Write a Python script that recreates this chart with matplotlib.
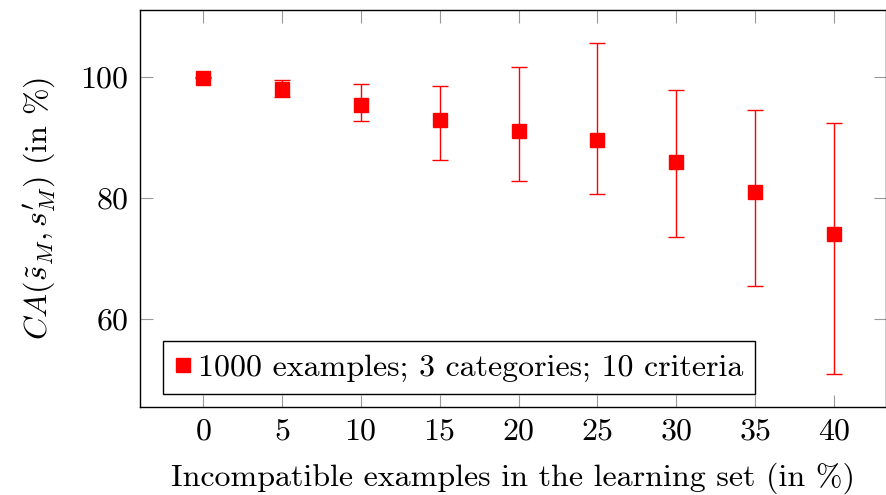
import numpy as np
import matplotlib
matplotlib.use("Agg")
import matplotlib.pyplot as plt
from matplotlib.lines import Line2D

plt.rcParams['font.family'] = ['cmr10', 'DejaVu Serif']
plt.rcParams['mathtext.fontset'] = 'cm'
plt.rcParams['axes.unicode_minus'] = False
plt.rcParams['axes.formatter.use_mathtext'] = True

# incompatible examples (%) and classification accuracy (%)
incompat = [0, 5, 10, 15, 20, 25, 30, 35, 40]
ca_mean = [99.9, 98.0, 95.4, 92.9, 91.1, 89.6, 86.0, 81.0, 74.1]
ca_upper = [100.0, 99.5, 98.9, 98.6, 101.7, 105.7, 97.9, 94.5, 92.4]
ca_lower = [99.8, 96.7, 92.7, 86.3, 82.8, 80.7, 73.6, 65.4, 50.8]
label = "1000 examples; 3 categories; 10 criteria"

fs = 23
fig = plt.figure(figsize=(8.87, 4.95), dpi=100)
ax = fig.add_axes([140/887, 1-407/495, 746/887, 397/495])

mean = np.array(ca_mean)
yerr = [mean - np.array(ca_lower), np.array(ca_upper) - mean]
ax.errorbar(incompat, ca_mean, yerr=yerr, fmt='s', color='red', ecolor='red',
            markersize=9.5, elinewidth=1.0, capsize=6, capthick=1.0)

ax.set_xlim(-4, 43.3)
ax.set_ylim(45.4, 111.1)
ax.set_xticks(incompat)
ax.set_yticks([60, 80, 100])
ax.tick_params(direction='in', length=9, width=0.8, color='#999999',
               top=True, right=True, labelsize=fs, pad=8)
for s in ax.spines.values():
    s.set_linewidth(1.0)

ax.set_xlabel("Incompatible examples in the learning set (in %)", fontsize=fs, labelpad=12)
ax.set_ylabel(r"$CA(\tilde{s}_M, s^{\prime}_{M})$ (in %)", fontsize=fs, labelpad=16)

handle = Line2D([], [], ls='none', marker='s', color='red', markersize=9.5)
leg = ax.legend([handle], [label], loc='lower left', fontsize=fs, frameon=True,
                fancybox=False, edgecolor='black', framealpha=1, handlelength=0.5,
                handletextpad=0.2, borderpad=0.38, borderaxespad=0,
                bbox_to_anchor=(23/746, 13/397))
leg.get_frame().set_linewidth(1.0)

fig.savefig("out.png", dpi=100)
